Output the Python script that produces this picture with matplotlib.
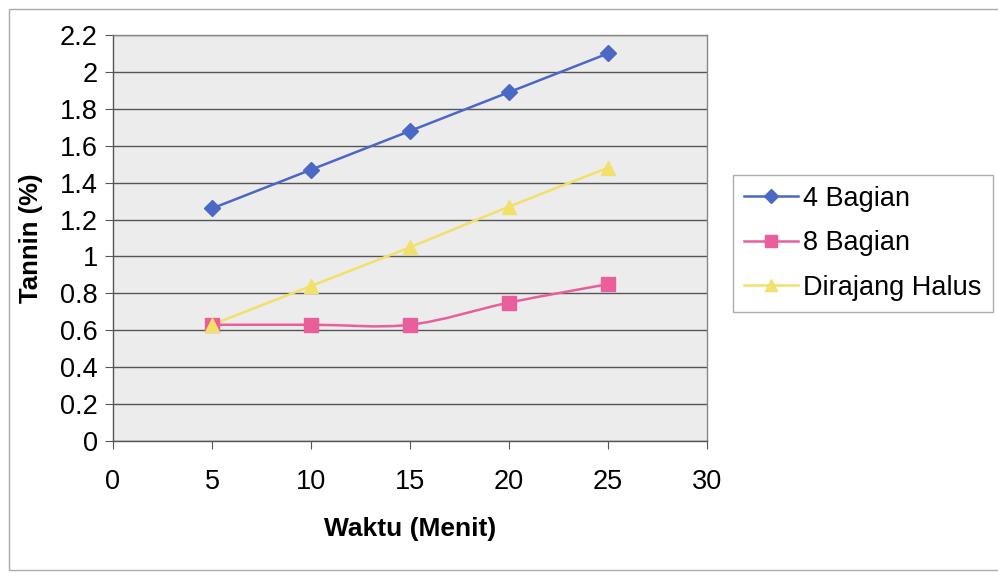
import numpy as np
import matplotlib
matplotlib.use("Agg")
import matplotlib.pyplot as plt
from matplotlib.path import Path
from matplotlib.patches import PathPatch, Rectangle
from matplotlib.lines import Line2D

plt.rcParams['font.family'] = ['Liberation Sans', 'DejaVu Sans']

waktu = [5, 10, 15, 20, 25]
bagian4 = [1.26, 1.47, 1.68, 1.89, 2.10]
bagian8 = [0.63, 0.63, 0.63, 0.75, 0.85]
dirajang = [0.63, 0.84, 1.05, 1.27, 1.48]
series_names = ["4 Bagian", "8 Bagian", "Dirajang Halus"]
colors = ["#4a68c4", "#e95f9c", "#f1e06a"]
markers = ["D", "s", "^"]
msizes = [8, 10, 10]

fig = plt.figure(figsize=(9.98, 5.73), dpi=100)
W, H = 998, 573
ax = fig.add_axes([113 / W, 1 - 441 / H, (707 - 113) / W, (441 - 35) / H])
ax.set_facecolor("#ececec")
ax.set_xlim(0, 30)
ax.set_ylim(0, 2.2)
ax.set_xticks(np.arange(0, 31, 5))
yt = np.round(np.arange(0, 2.21, 0.2), 1)
ax.set_yticks(yt)
ax.set_yticklabels([f"{v:g}" for v in yt])
ax.yaxis.grid(True, color="#555555", linewidth=1.0)
ax.set_axisbelow(True)
for s in ax.spines.values():
    s.set_color("#888888")
    s.set_linewidth(1.0)
ax.spines['left'].set_color("#555555")
ax.spines['bottom'].set_color("#555555")
ax.tick_params(axis='both', labelsize=19.5, color="#555555", length=6, direction='out')
ax.tick_params(axis='x', pad=14)
ax.tick_params(axis='y', pad=5)
ax.set_xlabel("Waktu (Menit)", fontsize=19, fontweight='bold', labelpad=16)
ax.set_ylabel("Tannin (%)", fontsize=18.5, fontweight='bold', labelpad=12)


def smooth_path(x, y):
    # Bezier (Catmull-Rom style) curve through data points, as Excel smoothed lines
    x = np.asarray(x, float)
    y = np.asarray(y, float)
    verts = [(x[0], y[0])]
    codes = [Path.MOVETO]
    n = len(x)
    for i in range(n - 1):
        x0, y0 = (x[i - 1], y[i - 1]) if i > 0 else (x[i], y[i])
        x3, y3 = (x[i + 2], y[i + 2]) if i + 2 < n else (x[i + 1], y[i + 1])
        c1 = (x[i] + (x[i + 1] - x0) / 6, y[i] + (y[i + 1] - y0) / 6)
        c2 = (x[i + 1] - (x3 - x[i]) / 6, y[i + 1] - (y3 - y[i]) / 6)
        verts += [c1, c2, (x[i + 1], y[i + 1])]
        codes += [Path.CURVE4] * 3
    return Path(verts, codes)


data = [bagian4, bagian8, dirajang]
handles = []
for ys, c, m, ms, name in zip(data, colors, markers, msizes, series_names):
    ax.add_patch(PathPatch(smooth_path(waktu, ys), facecolor='none', edgecolor=c, lw=1.8, zorder=3))
    ax.plot(waktu, ys, linestyle='none', marker=m, color=c, markersize=ms, zorder=4)
    handles.append(Line2D([], [], color=c, lw=1.8, marker=m, markersize=ms - 1, label=name))

leg = fig.legend(handles=handles, loc='upper left', bbox_to_anchor=(733 / W, 1 - 175 / H),
                 fontsize=19.5, frameon=True, fancybox=False, edgecolor="#999999",
                 borderpad=0.4, handlelength=2.0, handletextpad=0.2, labelspacing=0.68,
                 borderaxespad=0)
leg.get_frame().set_linewidth(1.0)

# outer chart frame
fig.patches.append(Rectangle((9 / W, 1 - 570 / H), 1.2, (570 - 9) / H, transform=fig.transFigure,
                             facecolor='none', edgecolor="#aaaaaa", lw=1.0))

fig.savefig("out.png", dpi=100, facecolor="white")
